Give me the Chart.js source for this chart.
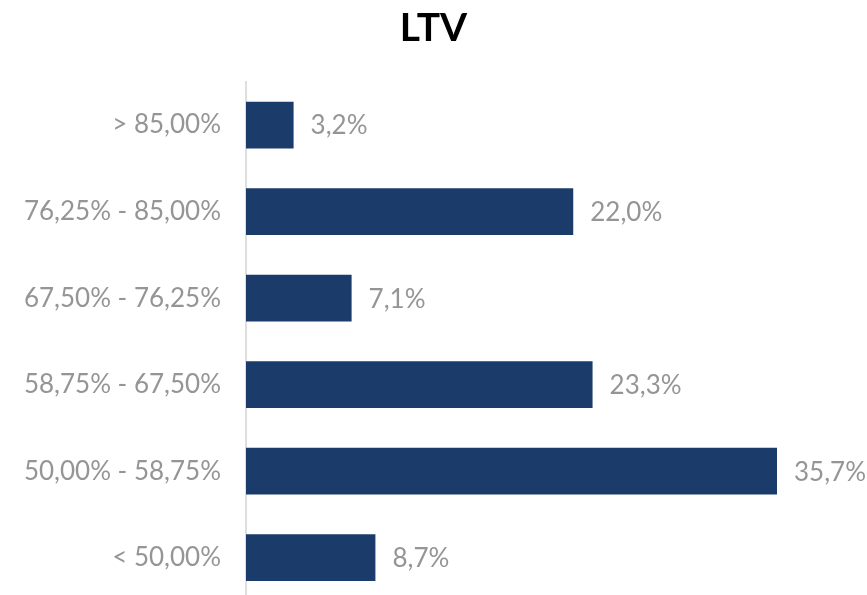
<!DOCTYPE html>
<html>
<head>
<meta charset="utf-8">
<script src="https://cdn.jsdelivr.net/npm/chart.js@4"></script>
<style>
  html, body { margin: 0; padding: 0; background: #fff; overflow: hidden; }
  canvas { display: block; }
</style>
</head>
<body>
<canvas id="chart" width="867" height="601"></canvas>
<script>
const categories = [
  "> 85,00%",
  "76,25% - 85,00%",
  "67,50% - 76,25%",
  "58,75% - 67,50%",
  "50,00% - 58,75%",
  "< 50,00%",
];
const shares = [3.2, 22.0, 7.1, 23.3, 35.7, 8.7];

const BAR = "#1b3b6a";
const GREY = "#959595";

const fmt = (v) => v.toFixed(1).replace(".", ",") + "%";

// value labels just past the end of each bar
const barLabels = {
  id: "barLabels",
  afterDatasetsDraw(chart) {
    const { ctx } = chart;
    const meta = chart.getDatasetMeta(0);
    ctx.save();
    ctx.font = "26px Lato";
    ctx.fillStyle = GREY;
    ctx.textBaseline = "middle";
    ctx.textAlign = "left";
    meta.data.forEach((bar, i) => {
      ctx.fillText(fmt(shares[i]), bar.x + 17, bar.y + 1);
    });
    ctx.restore();
  },
};

new Chart(document.getElementById("chart").getContext("2d"), {
  type: "bar",
  data: {
    labels: categories,
    datasets: [
      {
        data: shares,
        backgroundColor: BAR,
        borderWidth: 0,
        barPercentage: 0.54,
        categoryPercentage: 1,
      },
    ],
  },
  options: {
    indexAxis: "y",
    responsive: false,
    animation: false,
    layout: { padding: 0 },
    plugins: {
      legend: { display: false },
      tooltip: { enabled: false },
      title: {
        display: true,
        text: "LTV",
        color: "#000",
        font: { family: "Lato", size: 39, weight: "bold" },
        padding: { top: 5, bottom: 30 },
      },
    },
    scales: {
      x: {
        display: false,
        min: 0,
        max: 41.75,
      },
      y: {
        grid: { display: false, drawTicks: false },
        border: { display: true, color: "#dedede", width: 2 },
        ticks: {
          color: GREY,
          padding: 25,
          font: { family: "Lato", size: 26 },
        },
        afterFit(scale) {
          scale.width = 246;
          scale.paddingTop = 0;
          scale.paddingBottom = 0;
        },
      },
    },
  },
  plugins: [barLabels],
});
</script>
</body>
</html>
